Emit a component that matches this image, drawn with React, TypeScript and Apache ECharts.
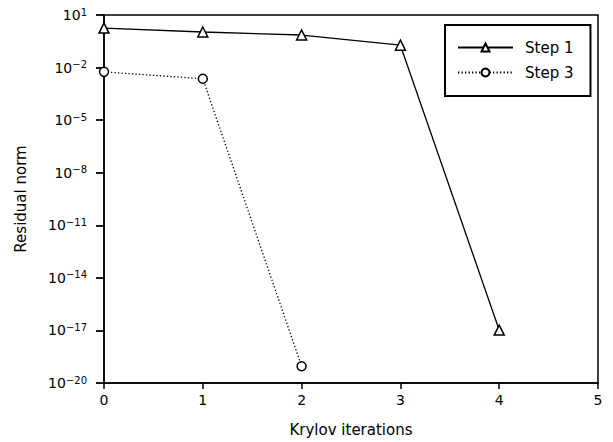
import React, { useEffect, useRef } from "react";
import * as echarts from "echarts";

const iterations = [0, 1, 2, 3, 4, 5];
const step1X = [0, 1, 2, 3, 4];
const step1Values = [1.8, 1.07, 0.72, 0.19, 1.05e-17];
const step3X = [0, 1, 2];
const step3Values = [5.7e-3, 2.3e-3, 9e-20];
const yMin = 1e-20;
const yMax = 1e1;
const yTickStep = 3;
const seriesNames = ["Step 1", "Step 3"];

const FONT = "DejaVu Sans";

function expLabel(v: number): string {
  const e = Math.round(Math.log10(v));
  const s = e < 0 ? "\u2212" + String(-e) : String(e);
  return "{b|10}{sup|" + s + "}";
}

export default function App() {
  const ref = useRef<HTMLDivElement>(null);
  useEffect(() => {
    if (!ref.current) return;
    const chart = echarts.init(ref.current, null, { renderer: "svg" });
    chart.setOption({
      animation: false,
      backgroundColor: "#fff",
      textStyle: { fontFamily: FONT, color: "#000" },
      grid: {
        left: 104,
        right: 15,
        top: 15,
        bottom: 58,
        show: true,
        borderColor: "#000",
        borderWidth: 1.5,
        backgroundColor: "transparent",
      },
      legend: {
        orient: "vertical",
        left: 445,
        top: 25,
        padding: [15, 17, 16, 12],
        borderColor: "#000",
        borderWidth: 2,
        borderRadius: 0,
        itemWidth: 55,
        itemHeight: 10,
        itemGap: 10,
        textStyle: { fontFamily: FONT, fontSize: 15, color: "#000", padding: [0, 0, 0, 7] },
        data: seriesNames,
      },
      xAxis: {
        type: "value",
        min: iterations[0],
        max: iterations[iterations.length - 1],
        interval: 1,
        name: "Krylov iterations",
        nameLocation: "middle",
        nameGap: 39,
        nameTextStyle: { fontFamily: FONT, fontSize: 15, color: "#000" },
        axisLine: { show: true, onZero: false, lineStyle: { color: "#000", width: 1.5 } },
        axisTick: { show: true, length: 6, lineStyle: { color: "#000", width: 1.5 } },
        axisLabel: { fontFamily: FONT, fontSize: 14, color: "#000", margin: 10 },
        splitLine: { show: false },
      },
      yAxis: {
        type: "log",
        logBase: 10,
        min: yMin,
        max: yMax,
        interval: yTickStep,
        name: "Residual norm",
        nameLocation: "middle",
        nameGap: 76,
        nameTextStyle: { fontFamily: FONT, fontSize: 15, color: "#000" },
        axisLine: { show: true, onZero: false, lineStyle: { color: "#000", width: 1.5 } },
        axisTick: { show: true, length: 8, lineStyle: { color: "#000", width: 1.8 } },
        axisLabel: {
          fontFamily: FONT,
          color: "#000",
          margin: 17,
          formatter: (v: number) => expLabel(v),
          rich: {
            b: { fontFamily: FONT, fontSize: 14, color: "#000", lineHeight: 16 },
            sup: { fontFamily: FONT, fontSize: 10, color: "#000", lineHeight: 6, verticalAlign: "top" },
          },
        },
        splitLine: { show: false },
      },
      series: [
        {
          name: seriesNames[0],
          type: "line",
          data: step1X.map((x, i) => [x, step1Values[i]]),
          symbol: "triangle",
          symbolSize: 10,
          showAllSymbol: true,
          lineStyle: { color: "#000", width: 1.3, type: "solid" },
          itemStyle: { color: "#fff", borderColor: "#000", borderWidth: 1.5 },
          clip: false,
        },
        {
          name: seriesNames[1],
          type: "line",
          data: step3X.map((x, i) => [x, step3Values[i]]),
          symbol: "circle",
          symbolSize: 9,
          showAllSymbol: true,
          lineStyle: { color: "#000", width: 1.3, type: [1.3, 2.2] },
          itemStyle: { color: "#fff", borderColor: "#000", borderWidth: 1.5 },
          clip: false,
        },
      ],
    });
    return () => chart.dispose();
  }, []);
  return <div ref={ref} style={{ width: 613, height: 442, position: "absolute", left: 0, top: 0 }} />;
}
